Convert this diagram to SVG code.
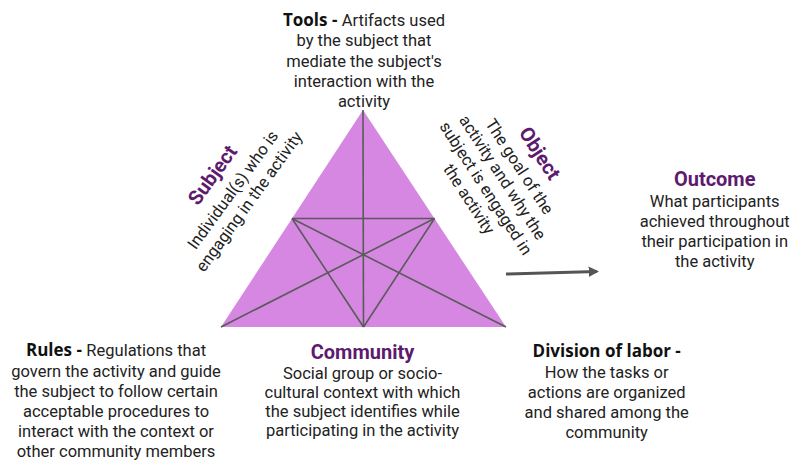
<svg xmlns="http://www.w3.org/2000/svg" width="800" height="473" viewBox="0 0 800 473">
<defs>
<style>
text{font-family:Roboto,"Liberation Sans",sans-serif;font-size:16.5px;fill:#222;text-anchor:middle}
.h{font-family:"Open Sans",Roboto,sans-serif;font-weight:bold;font-size:17px;fill:#111}
.p{font-weight:bold;font-size:20px;fill:#5e1a6e}
.ln{stroke:#5a5a5a;stroke-width:1.6;fill:none}
.arr{stroke:#555;stroke-width:3;fill:none}
</style>
<marker id="ah" viewBox="0 0 10 10" refX="8" refY="5" markerWidth="3.5" markerHeight="3.5" orient="auto"><path d="M0,0 L10,5 L0,10 z" fill="#555"/></marker>
</defs>
<rect width="800" height="473" fill="#fff"/>
<g id="triangle">
<polygon points="363,110 221,327 506,327" fill="#d687e2"/>
<g class="ln">
<line x1="363" y1="110" x2="363.5" y2="327"/>
<line x1="292" y1="218.5" x2="434.5" y2="218.5"/>
<line x1="292" y1="218.5" x2="506" y2="327"/>
<line x1="434.5" y1="218.5" x2="221" y2="327"/>
<line x1="292" y1="218.5" x2="363.5" y2="327"/>
<line x1="434.5" y1="218.5" x2="363.5" y2="327"/>
</g>
</g>
<g id="connectors">
<line class="arr" x1="506" y1="274" x2="597" y2="271.5" marker-end="url(#ah)"/>
</g>
<g id="tools">
<text x="364" y="26"><tspan class="h">Tools - </tspan>Artifacts used</text>
<text x="364" y="46.3">by the subject that</text>
<text x="364" y="66.6">mediate the subject's</text>
<text x="364" y="86.9">interaction with the</text>
<text x="364" y="107.2">activity</text>
</g>
<g id="subject" transform="translate(218,179) rotate(-54)">
<text class="p" x="0" y="0">Subject</text>
<text x="0" y="24">Individual(s) who is</text>
<text x="0" y="44">engaging in the activity</text>
</g>
<g id="object" transform="translate(534,157) rotate(57)">
<text class="p" x="0" y="0">Object</text>
<text x="0" y="23">The goal of the</text>
<text x="0" y="43">activity and why the</text>
<text x="0" y="63">subject is engaged in</text>
<text x="0" y="83">the activity</text>
</g>
<g id="outcome">
<text class="p" x="714.7" y="186">Outcome</text>
<text x="714.7" y="206.7">What participants</text>
<text x="714.7" y="226.7">achieved throughout</text>
<text x="714.7" y="246.5">their participation in</text>
<text x="714.7" y="266.5">the activity</text>
</g>
<g id="rules">
<text x="116" y="356"><tspan class="h">Rules - </tspan>Regulations that</text>
<text x="116" y="377">govern the activity and guide</text>
<text x="116" y="397">the subject to follow certain</text>
<text x="116" y="417">acceptable procedures to</text>
<text x="116" y="436.5">interact with the context or</text>
<text x="116" y="456.5">other community members</text>
</g>
<g id="community">
<text class="p" x="362.5" y="358.5">Community</text>
<text x="362.5" y="379.3">Social group or socio-</text>
<text x="362.5" y="398.3">cultural context with which</text>
<text x="362.5" y="416.8">the subject identifies while</text>
<text x="362.5" y="435.5">participating in the activity</text>
</g>
<g id="division">
<text class="h" x="606.7" y="356.7">Division of labor -</text>
<text x="606.7" y="378.3">How the tasks or</text>
<text x="606.7" y="398.3">actions are organized</text>
<text x="606.7" y="418.3">and shared among the</text>
<text x="606.7" y="438">community</text>
</g>
</svg>
